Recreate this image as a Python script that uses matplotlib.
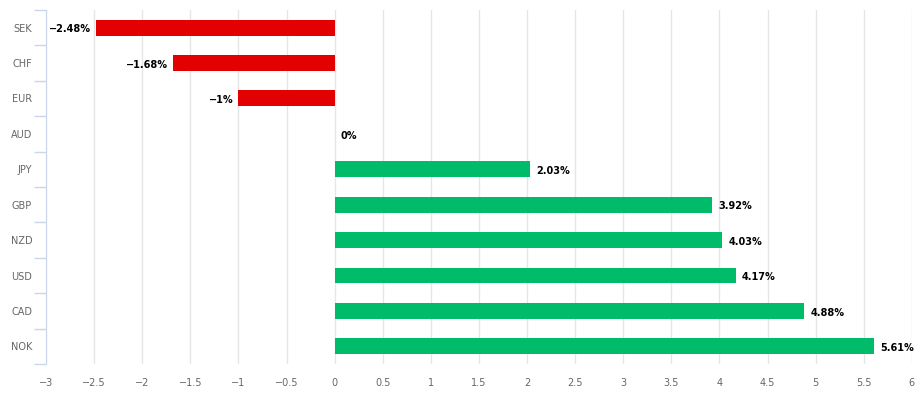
import matplotlib.pyplot as plt
import numpy as np

currencies = ["SEK", "CHF", "EUR", "AUD", "JPY", "GBP", "NZD", "USD", "CAD", "NOK"]
changes = [-2.48, -1.68, -1, 0, 2.03, 3.92, 4.03, 4.17, 4.88, 5.61]
labels = ["\u22122.48%", "\u22121.68%", "\u22121%", "0%", "2.03%", "3.92%",
          "4.03%", "4.17%", "4.88%", "5.61%"]
xticks = [-3, -2.5, -2, -1.5, -1, -0.5, 0, 0.5, 1, 1.5, 2, 2.5, 3, 3.5, 4, 4.5, 5, 5.5, 6]

plt.rcParams['font.family'] = ['DejaVu Sans']

fig = plt.figure(figsize=(9.21, 3.97), dpi=100)
ax = fig.add_axes([0.05, 0.083, 0.94, 0.892])

y = np.arange(len(currencies))
colors = ["#e30000" if v < 0 else "#00bb6a" for v in changes]
ax.barh(y, changes, height=0.45, color=colors, zorder=3)

for yi, v, lab in zip(y, changes, labels):
    if v < 0:
        ax.text(v - 0.05, yi + 0.05, lab, ha="right", va="center", fontsize=7,
                fontweight="bold", color="#000000", zorder=4)
    else:
        ax.text(v + 0.065, yi + 0.05, lab, ha="left", va="center", fontsize=7,
                fontweight="bold", color="#000000", zorder=4)

ax.set_xlim(-3, 6)
ax.set_ylim(9.5, -0.5)
ax.set_xticks(xticks)
ax.set_xticklabels([str(t).replace("-", "\u2212").replace(".0", "") for t in xticks],
                   fontsize=7, color="#666666")
ax.set_yticks(y)
ax.set_yticklabels(currencies, fontsize=7, color="#666666")
ax.set_yticks(np.arange(-0.5, 10, 1), minor=True)
ax.tick_params(axis="y", which="major", length=0, pad=10)
ax.tick_params(axis="y", which="minor", length=9, color="#ccd6eb", width=1)
ax.tick_params(axis="x", length=0, pad=10)

ax.grid(axis="x", color="#e6e6e6", linewidth=1, zorder=0)
for s in ["top", "right", "bottom"]:
    ax.spines[s].set_visible(False)
ax.spines["left"].set_color("#ccd6eb")

fig.savefig("out.png", dpi=100)
